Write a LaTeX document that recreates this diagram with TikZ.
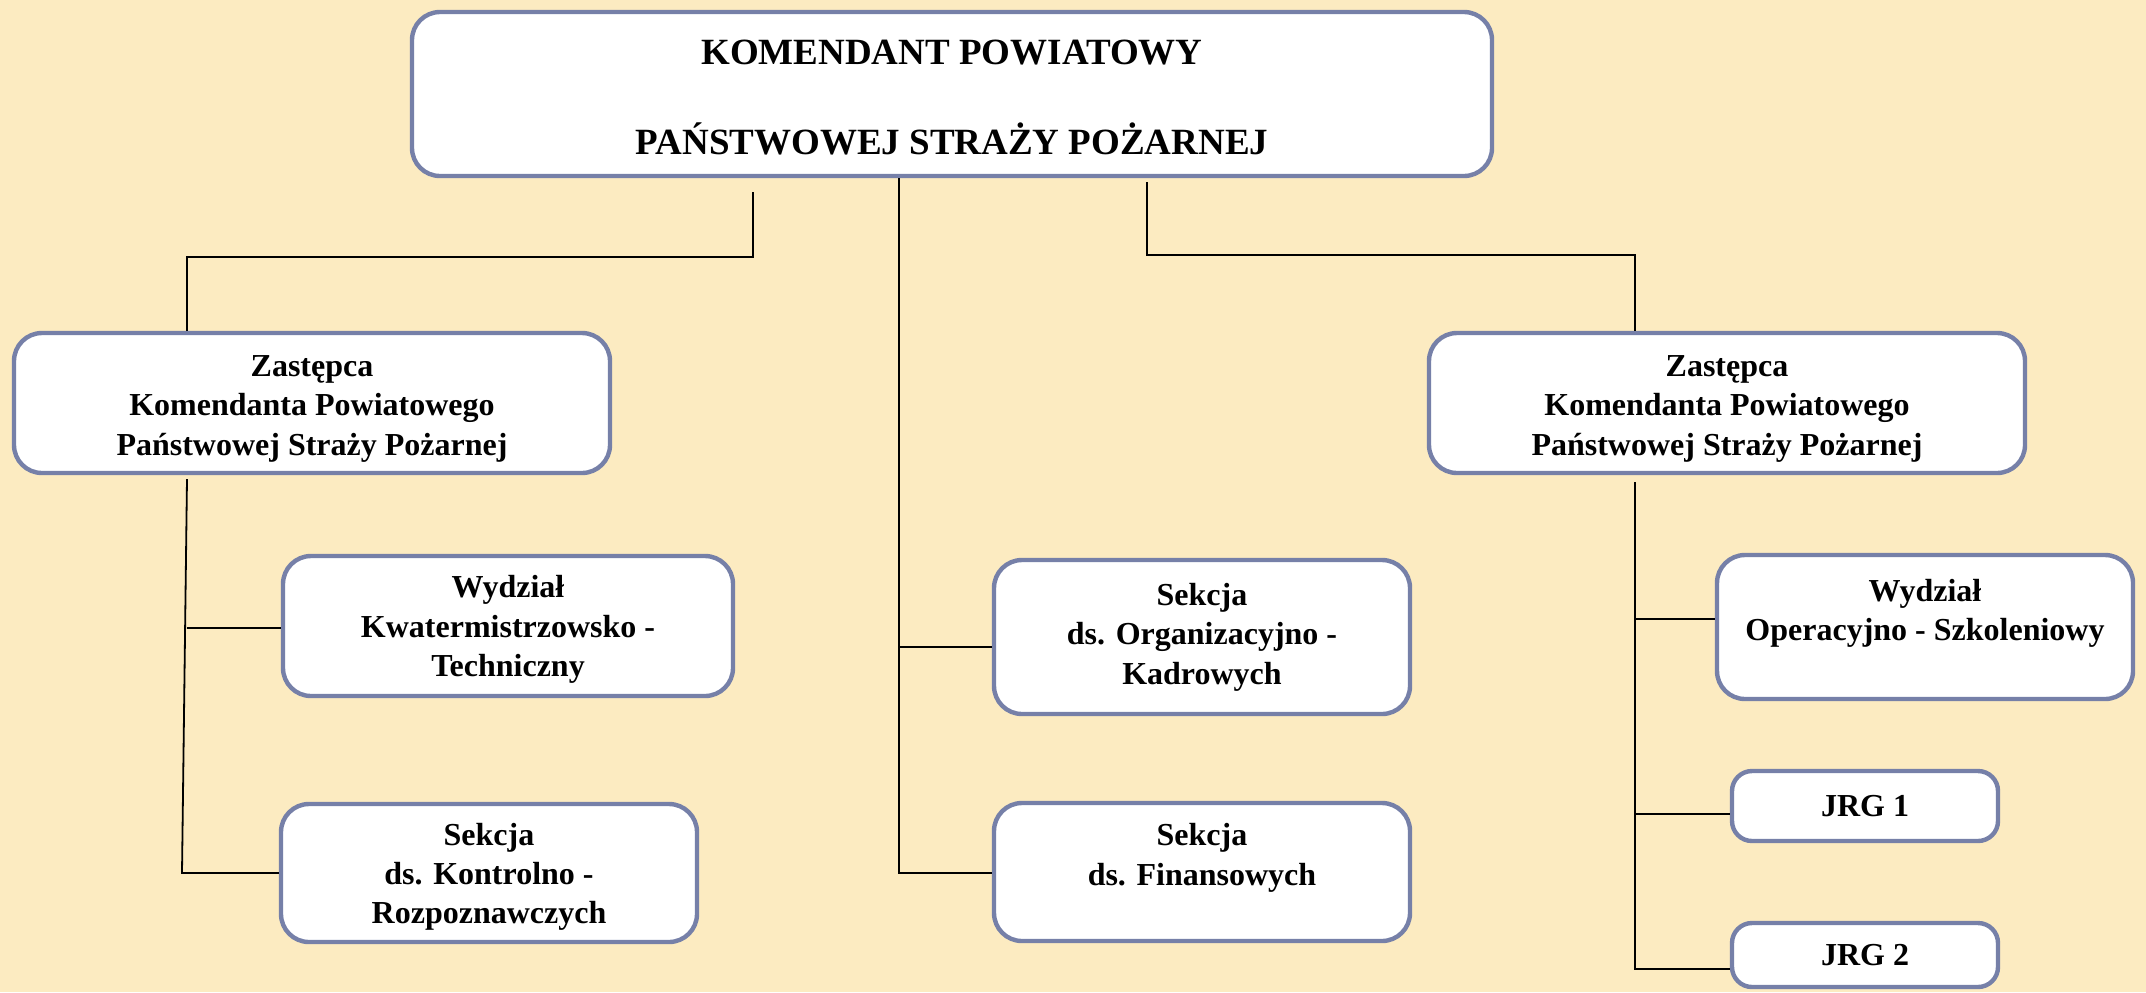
\documentclass[tikz,border=0pt]{standalone}
\usepackage{fontspec}
\setmainfont{Liberation Serif}
\definecolor{cream}{RGB}{252,235,193}
\definecolor{slateframe}{RGB}{118,128,168}
\newcommand{\lowertext}[1]{\rule{0pt}{#1}}

\begin{document}
\begin{tikzpicture}[x=0.5pt, y=-0.5pt,
    unit/.style={rectangle, rounded corners=14pt, fill=white, draw=slateframe, line width=2.2pt, align=center, inner sep=2pt, font=\bfseries\fontsize{16}{19.7}\selectfont},
    link/.style={draw=black, line width=0.9pt}]

    \useasboundingbox (0, 0) rectangle (2146, 992);
    \fill[cream] (0, 0) rectangle (2146, 992);

    \node[unit, minimum width=540pt, minimum height=82pt, font=\bfseries\fontsize{18.5}{22.4}\selectfont] at (952, 94) (kp) {\lowertext{15.8pt}KOMENDANT POWIATOWY\\[22.4pt]PAŃSTWOWEJ STRAŻY POŻARNEJ};

    \node[unit, minimum width=298pt, minimum height=70pt] at (312, 403) (zl) {\lowertext{16.2pt}Zastępca\\Komendanta Powiatowego\\Państwowej Straży Pożarnej};
    \node[unit, minimum width=298pt, minimum height=70pt] at (1727, 403) (zr) {\lowertext{16.2pt}Zastępca\\Komendanta Powiatowego\\Państwowej Straży Pożarnej};

    \node[unit, minimum width=225pt, minimum height=70pt] at (508, 626) (kw) {\lowertext{14.5pt}Wydział\\Kwatermistrzowsko -\\Techniczny};
    \node[unit, minimum width=208pt, minimum height=69pt] at (489, 873) (kr) {\lowertext{15pt}Sekcja\\ds. Kontrolno -\\Rozpoznawczych};

    \node[unit, minimum width=208pt, minimum height=77pt] at (1202, 637) (so) {Sekcja\\ds. Organizacyjno -\\Kadrowych};
    \node[unit, minimum width=208pt, minimum height=69pt] at (1202, 872) (sf) {\lowertext{13pt}Sekcja\\ds. Finansowych\\\mbox{}};

    \node[unit, minimum width=208pt, minimum height=72pt] at (1925, 627) (wos) {\lowertext{13.5pt}Wydział\\Operacyjno - Szkoleniowy\\\mbox{}};
    \node[unit, rounded corners=10pt, minimum width=133pt, minimum height=35pt] at (1865, 806) (j1) {JRG 1};
    \node[unit, rounded corners=10pt, minimum width=133pt, minimum height=32pt] at (1865, 955) (j2) {JRG 2};

    \coordinate (ltop) at (753, 192);
    \coordinate (lcorner) at (187, 257);
    \coordinate (rtop) at (1147, 182);
    \coordinate (rcorner) at (1635, 255);
    \draw[link] (ltop) |- (lcorner) -- (lcorner |- zl.north);
    \draw[link] (rtop) |- (rcorner) -- (rcorner |- zr.north);

    \coordinate (cso) at (899, 647);
    \coordinate (cbot) at (899, 873);
    \draw[link] (kp.south -| cbot) -- (cbot) -- (cbot -| sf.west);
    \draw[link] (cso) -- (cso -| so.west);

    \coordinate (ltr) at (187, 479);
    \coordinate (lkw) at (187, 628);
    \coordinate (lbot) at (182, 873);
    \draw[link] (ltr) -- (lbot) -- (lbot -| kr.west);
    \draw[link] (lkw) -- (lkw -| kw.west);

    \coordinate (rtr) at (1635, 482);
    \coordinate (rwos) at (1635, 619);
    \coordinate (rj1) at (1635, 814);
    \coordinate (rbot) at (1635, 969);
    \draw[link] (rtr) -- (rbot) -- (rbot -| j2.west);
    \draw[link] (rwos) -- (rwos -| wos.west);
    \draw[link] (rj1) -- (rj1 -| j1.west);

\end{tikzpicture}
\end{document}
